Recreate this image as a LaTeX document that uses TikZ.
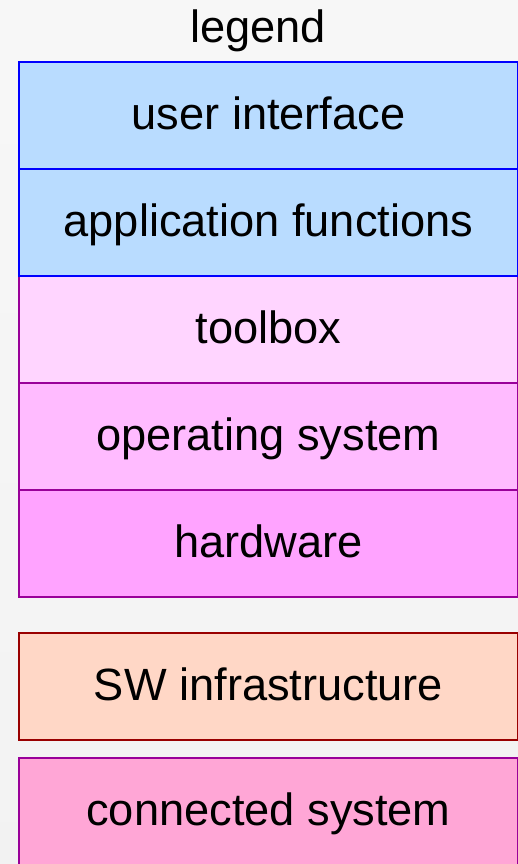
\documentclass[tikz,border=0pt]{standalone}
\usepackage{fontspec}
\setmainfont{Liberation Sans}
\usetikzlibrary{positioning}
\definecolor{uiblue}{RGB}{185,220,255}
\definecolor{tbpink}{RGB}{255,213,255}
\definecolor{ospink}{RGB}{255,187,255}
\definecolor{hwpink}{RGB}{255,163,255}
\definecolor{swpeach}{RGB}{255,215,198}
\definecolor{cspink}{RGB}{255,166,214}
\definecolor{lineblue}{RGB}{0,0,255}
\definecolor{linepurple}{RGB}{153,0,153}
\definecolor{linered}{RGB}{153,0,0}
\tikzset{
  layer/.style={rectangle, line width=1pt, minimum width=249.5pt, minimum height=53.5pt,
    inner sep=0pt, font=\fontsize{22.6}{26}\selectfont, text height=17pt, text depth=3pt},
  title/.style={font=\fontsize{22.6}{26}\selectfont, anchor=base, inner sep=0pt}
}

\begin{document}
\begin{tikzpicture}[x=0.5pt, y=-0.5pt]

% Background (light gray gradient)
\useasboundingbox (0,0) rectangle (518,864);
\shade[top color=black!3, middle color=black!11, bottom color=black!5] (0,0) rectangle (518,864);

% Title
\node[title] (legend) at (258,42) {legend};

% Stack of layers, drawn from the bottom up so the upper borders stay on top
\node[layer, fill=hwpink, draw=linepurple] (hw) at (268.5,543.5) {hardware};
\node[layer, fill=ospink, draw=linepurple] (os) at (268.5,436.5) {operating system};
\node[layer, fill=tbpink, draw=linepurple] (tb) at (268.5,329.5) {toolbox};
\node[layer, fill=uiblue, draw=lineblue] (app) at (268.5,222.5) {application functions};
\node[layer, fill=uiblue, draw=lineblue] (ui) at (268.5,115.5) {user interface};

% Separate boxes below the stack
\node[layer, fill=swpeach, draw=linered] (sw) at (268.5,686) {SW infrastructure};
\node[layer, fill=cspink, draw=linepurple] (cs) at (268.5,811.5) {connected system};

\end{tikzpicture}
\end{document}
